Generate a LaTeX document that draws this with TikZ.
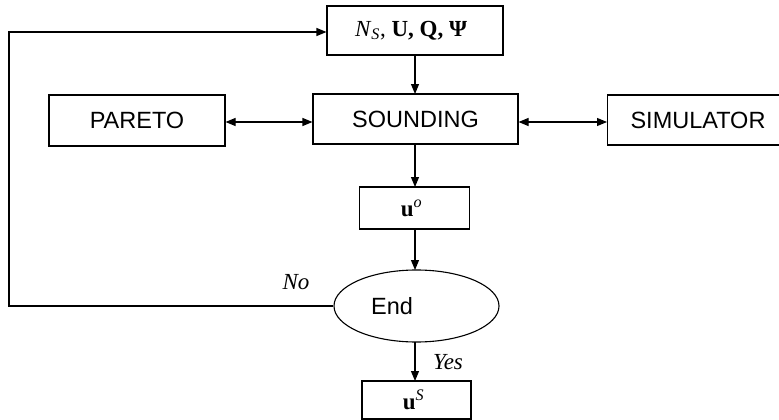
\documentclass[tikz,border=0pt]{standalone}
\usepackage{fontspec}
\setmainfont{Liberation Serif}
\newfontfamily\arialfont{Liberation Sans}
\usetikzlibrary{arrows.meta,shapes.geometric}
\begin{document}
\begin{tikzpicture}[x=1pt,y=-1pt,
  box/.style={draw,line width=1.1pt,inner sep=0pt,align=center},
  sansfont/.style={font=\arialfont\fontsize{23.5}{27}\selectfont},
  sansbox/.style={box,sansfont},
  serifbox/.style={box,font=\fontsize{23}{27}\selectfont},
  conn/.style={line width=1.1pt,-{Triangle[length=10pt,width=8pt]}},
  biconn/.style={line width=1.1pt,{Triangle[length=10pt,width=8pt]}-{Triangle[length=10pt,width=8pt]}},
  lbl/.style={font=\fontsize{23}{27}\selectfont\itshape,inner sep=0pt}]
\useasboundingbox (0,0) rectangle (779,420);
\node[serifbox,minimum width=176pt,minimum height=49pt] (top) at (415,30.5) {\hspace*{-8pt}\textit{N}\textsubscript{\textit{S}}, \textbf{U, Q, Ψ}};
\node[sansbox,minimum width=176pt,minimum height=51pt] (pareto) at (137,120.5) {PARETO};
\node[sansbox,minimum width=205pt,minimum height=50pt] (sound) at (415.5,119) {SOUNDING};
\node[sansbox,minimum width=176pt,minimum height=50pt,anchor=west,text width=150pt,align=left] (sim) at (607,120) {\hspace*{10pt}SIMULATOR};
\node[serifbox,minimum width=110pt,minimum height=42pt] (uo) at (414.5,208) {\hspace*{-6pt}\textbf{u}\textsuperscript{\textit{o}}};
\node[draw,ellipse,line width=1.1pt,minimum width=165pt,minimum height=72pt,inner sep=0pt] (end) at (416.5,306) {};
\node[sansfont,inner sep=0pt] (endtxt) at (392,306) {End};
\node[serifbox,minimum width=109pt,minimum height=38pt] (us) at (416.5,400) {\hspace*{-6pt}\textbf{u}\textsuperscript{\textit{S}}};
\node[lbl] (no) at (296,282) {No};
\node[lbl] (yes) at (448,362) {Yes};
\coordinate (c1) at (9,306);
\coordinate (c2) at (9,32);
\draw[conn] (end.west) -- (c1) -- (c2) -- (top.west |- c2);
\draw[conn] (415,55) -- (415,94);
\draw[biconn] (pareto.east |- 0,122) -- (sound.west |- 0,122);
\draw[biconn] (sound.east |- 0,122) -- (sim.west |- 0,122);
\draw[conn] (415,144) -- (415,187);
\draw[conn] (415,229) -- (415,270);
\draw[conn] (415,342) -- (415,381);
\end{tikzpicture}
\end{document}
